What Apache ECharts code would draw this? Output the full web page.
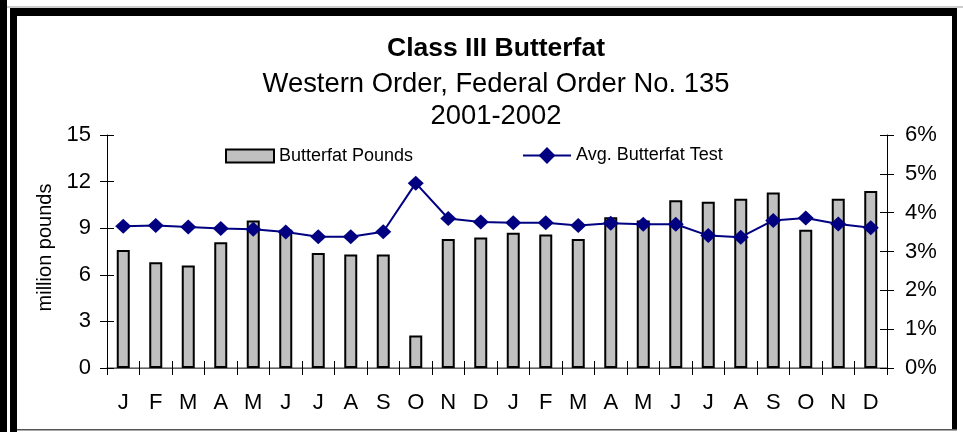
<!DOCTYPE html>
<html>
<head>
<meta charset="utf-8">
<script src="https://cdn.jsdelivr.net/npm/echarts@6/dist/echarts.min.js"></script>
<style>
  html, body { margin: 0; padding: 0; background: #fff; }
  #chart { width: 963px; height: 432px; }
</style>
</head>
<body>
<div id="chart"></div>
<script>
// 2001 and 2002, month by month
const months = ['J', 'F', 'M', 'A', 'M', 'J', 'J', 'A', 'S', 'O', 'N', 'D',
                'J', 'F', 'M', 'A', 'M', 'J', 'J', 'A', 'S', 'O', 'N', 'D'];
// million pounds
const butterfatPounds = [7.6, 6.8, 6.6, 8.1, 9.5, 8.9, 7.4, 7.3, 7.3, 2.1, 8.3, 8.4,
                         8.7, 8.6, 8.3, 9.7, 9.5, 10.8, 10.7, 10.9, 11.3, 8.9, 10.9, 11.4];
// percent
const butterfatTest = [3.65, 3.67, 3.63, 3.59, 3.57, 3.50, 3.38, 3.38, 3.51, 4.76, 3.85, 3.76,
                       3.74, 3.74, 3.67, 3.73, 3.70, 3.70, 3.41, 3.37, 3.80, 3.86, 3.71, 3.61];
const seriesNames = ['Butterfat Pounds', 'Avg. Butterfat Test'];

const font = "'Liberation Sans', Arial, sans-serif";
const chart = echarts.init(document.getElementById('chart'));

const options = {
    animation: false,
    backgroundColor: '#fff',
    textStyle: { fontFamily: font, color: '#000' },
    title: {
        text: 'Class III Butterfat',
        subtext: 'Western Order, Federal Order No. 135\n2001-2002',
        left: 496,
        textAlign: 'center',
        top: 33,
        padding: 0,
        itemGap: 3,
        textStyle: { fontFamily: font, fontSize: 26.5, fontWeight: 'bold', color: '#000', lineHeight: 32 },
        subtextStyle: { fontFamily: font, fontSize: 27.4, color: '#000', lineHeight: 32 }
    },
    // two legends so the line key can have a bigger diamond than the bar key is tall
    legend: [
        {
            data: [{ name: seriesNames[0], icon: 'rect' }],
            left: 225,
            top: 147,
            padding: 0,
            itemWidth: 48,
            itemHeight: 13,
            textStyle: { fontFamily: font, fontSize: 18, color: '#000' }
        },
        {
            data: [{ name: seriesNames[1] }],
            left: 522,
            top: 146.5,
            padding: 0,
            itemWidth: 48,
            itemHeight: 21,
            textStyle: { fontFamily: font, fontSize: 18, color: '#000' }
        }
    ],
    grid: { left: 107, right: 76, top: 135, bottom: 64 },
    xAxis: [
        {
            type: 'category', data: months, position: 'bottom',
            axisLine: { lineStyle: { color: '#000', width: 1 } },
            axisTick: { show: true, length: 7, lineStyle: { color: '#000' } },
            axisLabel: { interval: 0, fontFamily: font, fontSize: 22, color: '#000', margin: 24 }
        },
        {
            type: 'category', data: months, position: 'bottom',
            axisLine: { show: false },
            axisTick: { show: true, inside: true, length: 7, lineStyle: { color: '#000' } },
            axisLabel: { show: false }
        },
        {
            type: 'category', data: months, position: 'top',
            axisLine: { lineStyle: { color: '#808080', width: 1.5 } },
            axisTick: { show: false },
            axisLabel: { show: false }
        }
    ],
    yAxis: [
        {
            type: 'value', min: 0, max: 15, interval: 3, position: 'left',
            name: 'million pounds', nameLocation: 'middle', nameGap: 52,
            nameTextStyle: { fontFamily: font, fontSize: 20, color: '#000', padding: [0, 0, 0, 8] },
            axisLine: { show: true, lineStyle: { color: '#000', width: 1 } },
            axisTick: { show: true, length: 7, lineStyle: { color: '#000' } },
            axisLabel: { fontFamily: font, fontSize: 22, color: '#000', margin: 16 },
            splitLine: { show: false }
        },
        {
            type: 'value', min: 0, max: 6, interval: 1, position: 'right',
            axisLine: { show: true, lineStyle: { color: '#000', width: 1 } },
            axisTick: { show: true, length: 7, lineStyle: { color: '#000' } },
            axisLabel: { fontFamily: font, fontSize: 22, color: '#000', margin: 18, formatter: '{value}%' },
            splitLine: { show: false }
        },
        {
            type: 'value', min: 0, max: 15, interval: 3, position: 'left',
            axisLine: { show: false },
            axisTick: { show: true, inside: true, length: 7, lineStyle: { color: '#000' } },
            axisLabel: { show: false },
            splitLine: { show: false }
        },
        {
            type: 'value', min: 0, max: 6, interval: 1, position: 'right',
            axisLine: { show: false },
            axisTick: { show: true, inside: true, length: 7, lineStyle: { color: '#000' } },
            axisLabel: { show: false },
            splitLine: { show: false }
        }
    ],
    series: [
        {
            name: seriesNames[0],
            type: 'bar',
            data: butterfatPounds,
            barWidth: 13,
            itemStyle: { color: '#c0c0c0', borderColor: '#000', borderWidth: 2 }
        },
        {
            name: seriesNames[1],
            type: 'line',
            yAxisIndex: 1,
            data: butterfatTest,
            symbol: 'diamond',
            symbolSize: [16, 15],
            lineStyle: { color: '#000080', width: 2 },
            itemStyle: { color: '#000080' }
        }
    ],
    // the black frame around the picture
    graphic: [
        { type: 'rect', shape: { x: 0, y: 0, width: 7, height: 432 }, style: { fill: '#000' } },
        { type: 'rect', shape: { x: 7, y: 6.5, width: 956, height: 1 }, style: { fill: '#999' } },
        { type: 'rect', shape: { x: 10, y: 8, width: 947, height: 8 }, style: { fill: '#000' } },
        { type: 'rect', shape: { x: 10, y: 8, width: 7, height: 424 }, style: { fill: '#000' } },
        { type: 'rect', shape: { x: 952, y: 8, width: 5, height: 421 }, style: { fill: '#000' } },
        { type: 'rect', shape: { x: 17, y: 429, width: 940, height: 1.5 }, style: { fill: '#555' } }
    ]
};

chart.setOption(options);
</script>
</body>
</html>
